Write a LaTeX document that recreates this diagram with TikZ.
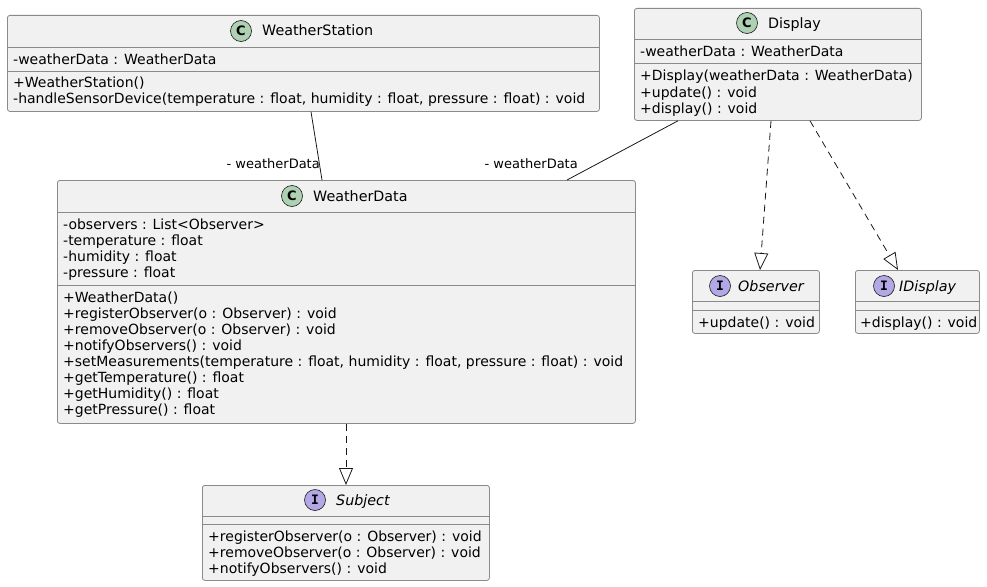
\documentclass[tikz,border=0pt]{standalone}
\usepackage{fontspec}
\setmainfont{DejaVu Sans}
\newfontfamily\monob{DejaVu Sans Mono}
\usetikzlibrary{arrows.meta}
\definecolor{boxfill}{HTML}{F1F1F1}
\definecolor{boxline}{HTML}{8A8A8A}
\definecolor{conline}{HTML}{181818}
\definecolor{cgreen}{HTML}{ADD1B2}
\definecolor{ipurple}{HTML}{B4A7E5}
\begin{document}
\begin{tikzpicture}[x=1pt,y=-1pt,
 classbox/.style={draw=boxline, fill=boxfill, line width=0.8pt, rounded corners=2.5pt, inner sep=0pt, anchor=north west},
 mem/.style={anchor=base west, inner sep=0pt, font=\fontsize{14}{16}\selectfont},
 ttl/.style={anchor=base west, inner sep=0pt, font=\fontsize{14.3}{16}\selectfont},
 ittl/.style={anchor=base west, inner sep=0pt, font=\fontsize{14.3}{16}\selectfont\itshape},
 cbadge/.style={circle, draw=conline, line width=0.6pt, fill=cgreen, minimum size=21pt, inner sep=0pt, font=\fontsize{13}{13}\selectfont\bfseries},
 ibadge/.style={circle, draw=conline, line width=0.6pt, fill=ipurple, minimum size=21pt, inner sep=0pt, font=\fontsize{13}{13}\selectfont\monob\bfseries},
 div/.style={draw=boxline, line width=0.8pt},
 assoc/.style={draw=conline, line width=0.8pt},
 real/.style={draw=conline, line width=0.8pt, dash pattern=on 7pt off 5pt, -{Triangle[open, length=17pt, width=14pt]}},
 lbl/.style={anchor=base east, inner sep=0pt, font=\fontsize{13}{15}\selectfont}
]
\useasboundingbox (0,0) rectangle (987,586);

% WeatherStation
\node[classbox, minimum width=592pt, minimum height=96pt] (ws) at (7,15) {};
\draw[div] ([yshift=-32pt]ws.north west) -- ([yshift=-32pt]ws.north east);
\draw[div] ([yshift=-56pt]ws.north west) -- ([yshift=-56pt]ws.north east);
\node[cbadge] (wsb) at (241,31) {C};
\node[ttl] (wst) at (262,36) {WeatherStation};
\node[mem] (ws1) at (13,64) {-weatherData : WeatherData};
\node[mem] (ws2) at (13,87.5) {+WeatherStation()};
\node[mem] (ws3) at (13,103.5) {-handleSensorDevice(temperature : float, humidity : float, pressure : float) : void};

% Display
\node[classbox, minimum width=287pt, minimum height=112pt] (disp) at (634,8) {};
\draw[div] ([yshift=-31pt]disp.north west) -- ([yshift=-31pt]disp.north east);
\draw[div] ([yshift=-55pt]disp.north west) -- ([yshift=-55pt]disp.north east);
\node[cbadge] (dispb) at (747,23) {C};
\node[ttl] (dispt) at (768,29) {Display};
\node[mem] (d1) at (640,56.5) {-weatherData : WeatherData};
\node[mem] (d2) at (640,81) {+Display(weatherData : WeatherData)};
\node[mem] (d3) at (640,97) {+update() : void};
\node[mem] (d4) at (640,113) {+display() : void};

% WeatherData
\node[classbox, minimum width=578pt, minimum height=243pt] (wd) at (57,180) {};
\draw[div] ([yshift=-32pt]wd.north west) -- ([yshift=-32pt]wd.north east);
\draw[div] ([yshift=-105pt]wd.north west) -- ([yshift=-105pt]wd.north east);
\node[cbadge] (wdb) at (292,196) {C};
\node[ttl] (wdt) at (313,201) {WeatherData};
\node[mem] (a1) at (63,229) {-observers : List<Observer>};
\node[mem] (a2) at (63,245) {-temperature : float};
\node[mem] (a3) at (63,261) {-humidity : float};
\node[mem] (a4) at (63,277) {-pressure : float};
\node[mem] (m1) at (63,302) {+WeatherData()};
\node[mem] (m2) at (63,318) {+registerObserver(o : Observer) : void};
\node[mem] (m3) at (63,334) {+removeObserver(o : Observer) : void};
\node[mem] (m4) at (63,350) {+notifyObservers() : void};
\node[mem] (m5) at (63,366) {+setMeasurements(temperature : float, humidity : float, pressure : float) : void};
\node[mem] (m6) at (63,382) {+getTemperature() : float};
\node[mem] (m7) at (63,398) {+getHumidity() : float};
\node[mem] (m8) at (63,414) {+getPressure() : float};

% Subject
\node[classbox, minimum width=287pt, minimum height=95pt] (subj) at (202,485) {};
\draw[div] ([yshift=-31pt]subj.north west) -- ([yshift=-31pt]subj.north east);
\draw[div] ([yshift=-39pt]subj.north west) -- ([yshift=-39pt]subj.north east);
\node[ibadge] (subjb) at (315,500) {I};
\node[ittl] (subjt) at (336,505) {Subject};
\node[mem] (s1) at (208,541) {+registerObserver(o : Observer) : void};
\node[mem] (s2) at (208,557) {+removeObserver(o : Observer) : void};
\node[mem] (s3) at (208,573) {+notifyObservers() : void};

% Observer
\node[classbox, minimum width=127pt, minimum height=63pt] (obs) at (692,270) {};
\draw[div] ([yshift=-31.5pt]obs.north west) -- ([yshift=-31.5pt]obs.north east);
\draw[div] ([yshift=-40pt]obs.north west) -- ([yshift=-40pt]obs.north east);
\node[ibadge] (obsb) at (720,286) {I};
\node[ittl] (obst) at (738,291) {Observer};
\node[mem] (o1) at (698,327) {+update() : void};

% IDisplay
\node[classbox, minimum width=124pt, minimum height=63pt] (idisp) at (855,270) {};
\draw[div] ([yshift=-31.5pt]idisp.north west) -- ([yshift=-31.5pt]idisp.north east);
\draw[div] ([yshift=-40pt]idisp.north west) -- ([yshift=-40pt]idisp.north east);
\node[ibadge] (idispb) at (884,286) {I};
\node[ittl] (idispt) at (899,291) {IDisplay};
\node[mem] (i1) at (860,327) {+display() : void};

% connectors
\draw[assoc] ([xshift=304pt]ws.south west) -- ([xshift=265pt]wd.north west);
\node[lbl] (l1) at (320,168) {- weatherData};
\draw[assoc] ([xshift=44pt]disp.south west) -- ([xshift=510pt]wd.north west);
\node[lbl] (l2) at (578,168) {- weatherData};
\draw[real] ([xshift=137pt]disp.south west) -- ([xshift=68pt]obs.north west);
\draw[real] ([xshift=176pt]disp.south west) -- ([xshift=43pt]idisp.north west);
\draw[real] ([xshift=289pt]wd.south west) -- ([xshift=144pt]subj.north west);
\end{tikzpicture}
\end{document}
